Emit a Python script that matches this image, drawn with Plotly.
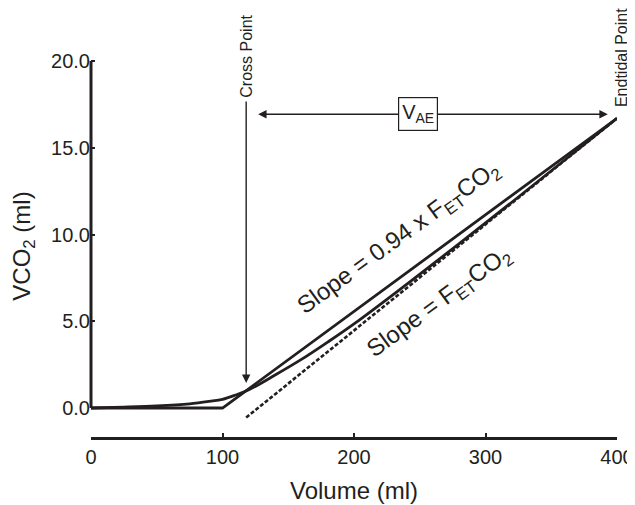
import plotly.graph_objects as go

# ---- data ----
vol_straight = [0, 100, 400]
vco2_straight = [0, 0, 16.7]

vol_curve = [0, 25, 50, 75, 90, 100, 110, 120, 140, 160, 180, 200, 240, 280, 320, 360, 400]
vco2_curve = [0, 0.05, 0.12, 0.24, 0.38, 0.5, 0.75, 1.05, 1.9, 2.8, 3.8, 4.85, 7.13, 9.47, 11.86, 14.28, 16.7]

vol_dashed = [118, 400]
vco2_dashed = [-0.55, 16.7]

x_ticks = [0, 100, 200, 300, 400]
y_ticks = [0, 5, 10, 15, 20]
y_tick_labels = ["0.0", "5.0", "10.0", "15.0", "20.0"]

cross_point = 118
endtidal_point = 400
vae_y = 16.93

FONT = "Liberation Sans, Arial, Helvetica, sans-serif"
BLACK = "#231f20"

fig = go.Figure()
fig.add_trace(go.Scatter(x=vol_straight, y=vco2_straight, mode="lines",
                         line=dict(color=BLACK, width=2.8), showlegend=False))
fig.add_trace(go.Scatter(x=vol_curve, y=vco2_curve, mode="lines", line_shape="spline",
                         line=dict(color=BLACK, width=2.8), showlegend=False))
fig.add_trace(go.Scatter(x=vol_dashed, y=vco2_dashed, mode="lines",
                         line=dict(color=BLACK, width=2.6, dash="4px,2px"), showlegend=False))

# y axis line (only 0..20)
fig.add_shape(type="line", xref="paper", yref="y", x0=0, x1=0, y0=0, y1=20,
              line=dict(color=BLACK, width=3))

ann = []
# Cross point arrow
ann.append(dict(x=cross_point, y=1.44, ax=cross_point, ay=17.75, xref="x", yref="y",
                axref="x", ayref="y", text="", showarrow=True, arrowhead=2,
                arrowsize=1.2, arrowwidth=1.4, arrowcolor=BLACK))
ann.append(dict(x=cross_point, y=17.75, xref="x", yref="y", text="Cross Point",
                textangle=-90, showarrow=False, xanchor="center", yanchor="bottom",
                font=dict(family=FONT, size=16, color=BLACK)))
ann.append(dict(x=endtidal_point, y=17.2, xref="x", yref="y", text="Endtidal Point",
                textangle=-90, showarrow=False, xanchor="center", yanchor="bottom",
                xshift=4, font=dict(family=FONT, size=16, color=BLACK)))
# V_AE double arrow
ann.append(dict(x=393, y=vae_y, ax=126, ay=vae_y, xref="x", yref="y",
                axref="x", ayref="y", text="", showarrow=True, arrowhead=2,
                startarrowhead=2, arrowside="end+start", arrowsize=1.2,
                startarrowsize=1.2, arrowwidth=1.4, arrowcolor=BLACK))
ann.append(dict(x=248.7, y=vae_y, xref="x", yref="y", text="V<sub>AE</sub>",
                showarrow=False, bgcolor="white", bordercolor=BLACK, borderwidth=1.2,
                borderpad=3, font=dict(family=FONT, size=20, color=BLACK)))
# slope labels
ann.append(dict(x=234, y=9.75, xref="x", yref="y",
                text="Slope = 0.94 x F<sub>ET</sub>CO<sub>2</sub>",
                textangle=-36, showarrow=False,
                font=dict(family=FONT, size=24, color=BLACK)))
ann.append(dict(x=265, y=6.1, xref="x", yref="y",
                text="Slope = F<sub>ET</sub>CO<sub>2</sub>",
                textangle=-36, showarrow=False,
                font=dict(family=FONT, size=24, color=BLACK)))

# The page body adds an 8px offset, so margins are shifted by -8px.
fig.update_layout(
    width=635, height=505,
    margin=dict(l=83, r=26, t=47, b=76, autoexpand=False),
    plot_bgcolor="white", paper_bgcolor="white",
    font=dict(family=FONT, color=BLACK),
    annotations=ann,
    xaxis=dict(range=[0, 400], tickvals=x_ticks, ticktext=[str(v) for v in x_ticks],
               automargin=False,
               showgrid=False, zeroline=False, showline=True, linecolor=BLACK,
               linewidth=3, ticks="inside", ticklen=4, tickwidth=2, tickcolor=BLACK,
               tickfont=dict(family=FONT, size=20, color=BLACK),
               title=dict(text="Volume (ml)", standoff=16,
                          font=dict(family=FONT, size=24, color=BLACK))),
    yaxis=dict(range=[-1.671, 20.346], tickvals=y_ticks, ticktext=y_tick_labels,
               automargin=False,
               showgrid=False, zeroline=False, showline=False,
               ticks="inside", ticklen=4, tickwidth=2, tickcolor=BLACK,
               tickfont=dict(family=FONT, size=20, color=BLACK),
               title=dict(text="VCO<sub>2</sub> (ml)", standoff=17,
                          font=dict(family=FONT, size=24, color=BLACK))),
)

fig.write_html("out.html")
